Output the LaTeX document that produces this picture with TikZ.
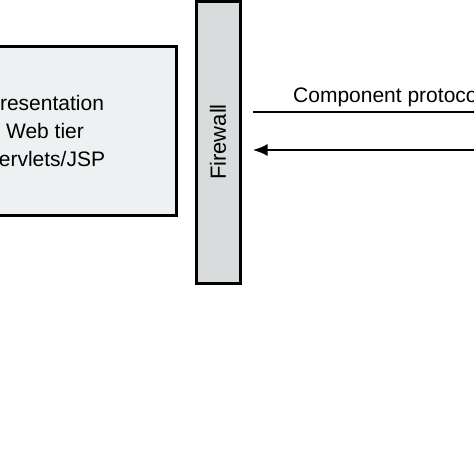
\documentclass[tikz,border=0pt]{standalone}
\usepackage{fontspec}
\setmainfont{Liberation Sans}
\usetikzlibrary{arrows.meta, calc}
\definecolor{tierfill}{HTML}{EEF1F2}
\definecolor{wallfill}{HTML}{D8DCDC}

\begin{document}
\begin{tikzpicture}[x=1pt, y=-1pt, font=\fontsize{21}{28}\selectfont,
tier/.style={draw, line width=3pt, fill=tierfill, align=center, minimum width=262pt, minimum height=169pt},
fwall/.style={draw, line width=3pt, fill=wallfill, minimum width=44pt, minimum height=282pt},
conn/.style={line width=2.6pt, -{Latex[length=15pt, width=12pt]}}]
\useasboundingbox (0,0) rectangle (474,474);
\clip (0,0) rectangle (474,474);
\node [tier] (web) at (45,130.5) {Presentation\\Web tier\\Servlets/JSP};
\node [fwall] (fw) at (218,142) {};
\node [rotate=90, font=\fontsize{22}{26}\selectfont] (fwtext) at (fw.center) {Firewall};
\coordinate (p1) at (520,112);
\coordinate (p2) at (520,150);
\draw [line width=2.6pt] (p1) -- ($(fw.east |- p1)+(11,0)$);
\draw [conn] (p2) -- ($(fw.east |- p2)+(11,0)$);
\node [anchor=base west, inner sep=0pt] (proto) at (293,102) {Component protocol};
\end{tikzpicture}
\end{document}
